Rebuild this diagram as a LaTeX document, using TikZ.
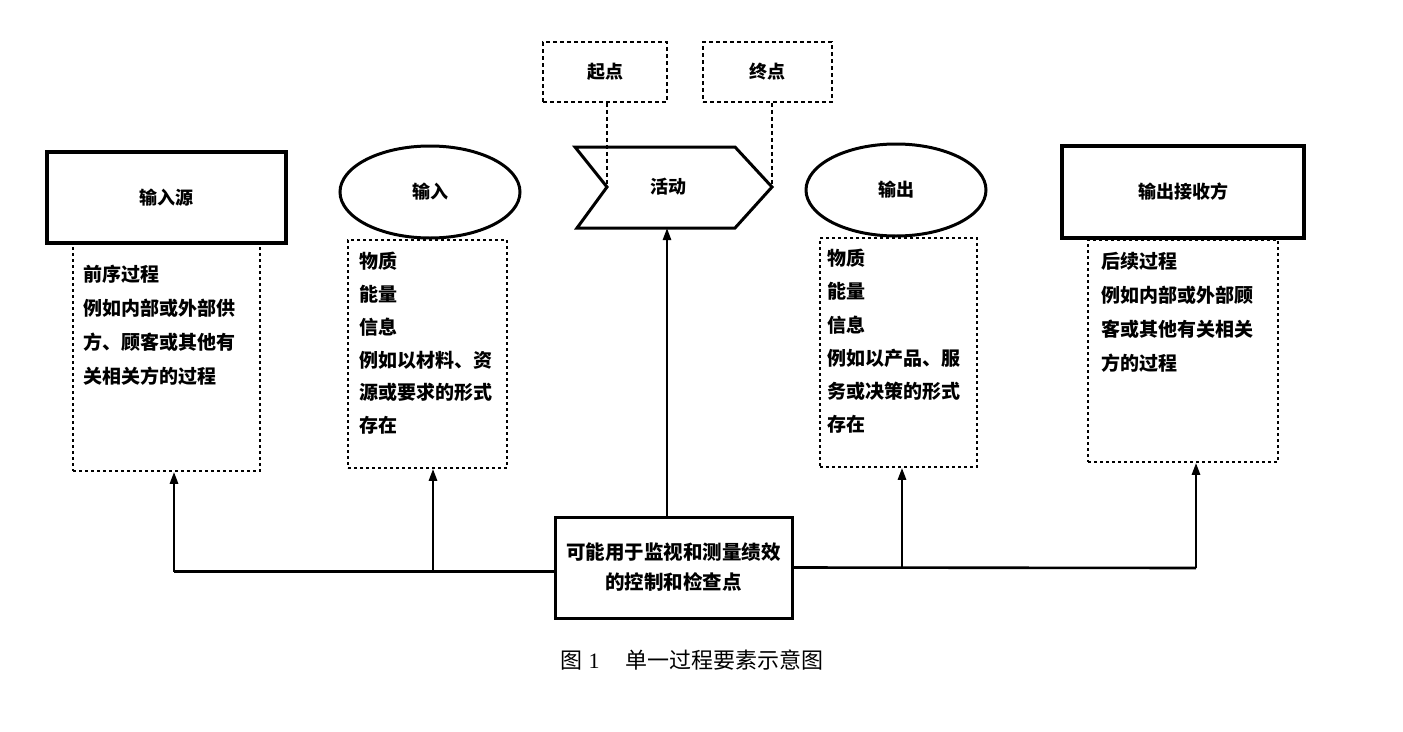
\documentclass[tikz,border=0pt]{standalone}
\usepackage{fontspec}
\setmainfont{Noto Sans CJK SC}
\newfontfamily\numfont{Liberation Serif}
\usetikzlibrary{arrows.meta,shapes.geometric}
\begin{document}
\begin{tikzpicture}[x=1pt,y=-1pt,
  thickbox/.style={draw, line width=3.2pt, rectangle, inner sep=0pt,
    font=\fontsize{18pt}{20pt}\selectfont\bfseries},
  ovalbox/.style={draw, line width=3pt, ellipse, inner sep=0pt,
    font=\fontsize{18pt}{20pt}\selectfont\bfseries},
  dotbox/.style={draw, line width=1.6pt, dash pattern=on 3pt off 3pt, rectangle, inner sep=0pt},
  pointbox/.style={draw, line width=1.8pt, dash pattern=on 4pt off 3pt, rectangle, inner sep=0pt,
    font=\fontsize{18pt}{20pt}\selectfont\bfseries},
  desc/.style={anchor=north west, align=left, inner sep=0pt,
    font=\fontsize{19pt}{34pt}\selectfont\bfseries},
  conn/.style={line width=2.6pt, -{Triangle[length=12pt,width=8pt]}},
  guide/.style={line width=2pt, dash pattern=on 4pt off 3pt},
]
\useasboundingbox (0,0) rectangle (1403,731);

% top point boxes
\node[pointbox, minimum width=124pt, minimum height=60pt] (qd) at (605,72) {起点};
\node[pointbox, minimum width=129pt, minimum height=60pt] (zd) at (767.5,72) {终点};

% activity shape
\coordinate (notch) at (607,187);
\coordinate (tip) at (772,187);
\coordinate (actb) at (667,228);
\draw[line width=3pt, line join=miter] (575,147) -- (735,147) -- (tip) -- (735,228) -- (577,228) -- (notch) -- cycle;
\node[font=\fontsize{18pt}{20pt}\selectfont\bfseries] (act) at (668,187) {活动};

\draw[guide] (qd.south -| notch) -- (notch);
\draw[guide] (zd.south -| tip) -- (tip);

% input source
\node[thickbox, minimum width=239pt, minimum height=91pt] (src) at (166.5,197.5) {输入源};
\node[dotbox, minimum width=187pt, minimum height=228pt] (d1) at (166.5,357) {};
\node[desc] (t1) at (83,265) {前序过程\\例如内部或外部供\\方、顾客或其他有\\关相关方的过程};

% input
\node[ovalbox, minimum width=180pt, minimum height=92pt] (in) at (430,192) {输入};
\node[dotbox, minimum width=159pt, minimum height=228pt] (d2) at (427.5,354) {};
\node[desc, font=\fontsize{19pt}{32.8pt}\selectfont\bfseries] (t2) at (359,252) {物质\\能量\\信息\\例如以材料、资\\源或要求的形式\\存在};

% output
\node[ovalbox, minimum width=180pt, minimum height=92pt] (out) at (896,190) {输出};
\node[dotbox, minimum width=157pt, minimum height=229pt] (d3) at (898.5,352.5) {};
\node[desc, font=\fontsize{19pt}{33.2pt}\selectfont\bfseries] (t3) at (827,249) {物质\\能量\\信息\\例如以产品、服\\务或决策的形式\\存在};

% output receiver
\node[thickbox, minimum width=242pt, minimum height=92pt] (rcv) at (1183,192) {输出接收方};
\node[dotbox, minimum width=190pt, minimum height=222pt] (d4) at (1183,351) {};
\node[desc] (t4) at (1101,252) {后续过程\\例如内部或外部顾\\客或其他有关相关\\方的过程};

% control box
\node[thickbox, line width=3pt, minimum width=237pt, minimum height=101pt, align=center,
  font=\fontsize{19.5pt}{30pt}\selectfont\bfseries] (ctrl) at (673.5,567.5)
  {可能用于监视和测量绩效\\的控制和检查点};

% connectors
\coordinate (j1) at (174,571.5);
\coordinate (j2) at (433,571.5);
\coordinate (j3) at (902,568);
\coordinate (j4) at (1196,568);
\draw[line width=2.6pt] ([yshift=-4pt]ctrl.west) -- (j1);
\draw[line width=2.6pt] (ctrl.east) -- (j4);
\draw[conn] (j1) -- (j1 |- d1.south);
\draw[conn] (j2) -- (j2 |- d2.south);
\draw[conn] (j3) -- (j3 |- d3.south);
\draw[conn] (j4) -- (j4 |- d4.south);
\draw[conn] (actb |- ctrl.north) -- (actb);

% caption
\node[font=\fontsize{22pt}{24pt}\selectfont] (cap) at (692,660) {图\hspace{6pt}{\numfont 1}\hspace{26pt}单一过程要素示意图};
\end{tikzpicture}
\end{document}
